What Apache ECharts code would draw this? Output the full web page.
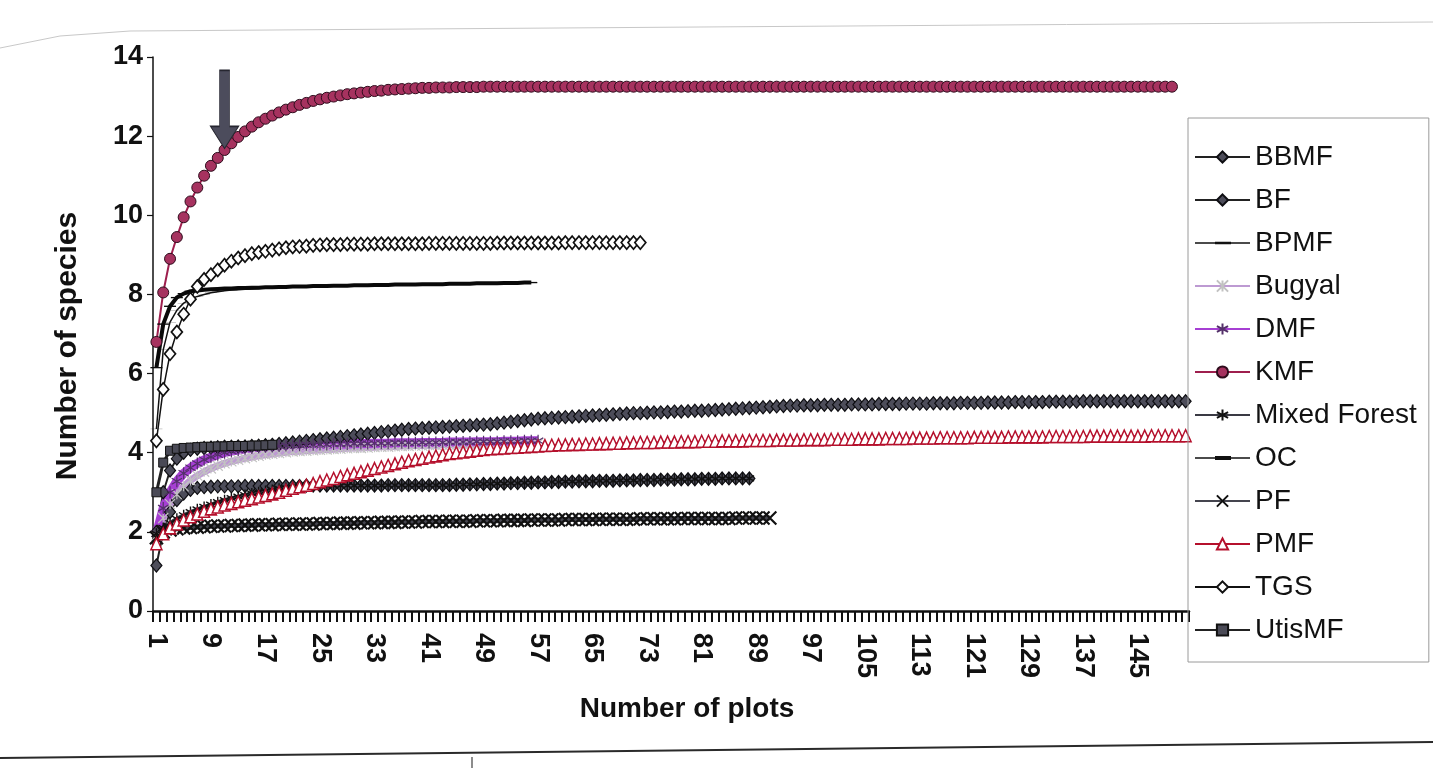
<!DOCTYPE html>
<html>
<head>
<meta charset="utf-8">
<script src="https://cdn.jsdelivr.net/npm/echarts@6/dist/echarts.min.js"></script>
<style>
  html, body { margin: 0; padding: 0; background: #fff; }
  #chart { width: 1433px; height: 768px; }
</style>
</head>
<body>
<div id="chart"></div>
<script>
// Species accumulation: number of species against number of plots, by forest type
const plotCount = 152;
const plots = Array.from({ length: plotCount }, (_, i) => String(i + 1));
const yTicks = [0, 2, 4, 6, 8, 10, 12, 14];

const BBMF = [
  2.0, 3.0, 3.55, 3.85, 4.0, 4.07, 4.1, 4.12, 4.13, 4.14,
  4.15, 4.15, 4.16, 4.16, 4.17, 4.18, 4.19, 4.2, 4.22, 4.24,
  4.26, 4.28, 4.3, 4.32, 4.34, 4.36, 4.38, 4.4, 4.42, 4.44,
  4.46, 4.48, 4.5, 4.52, 4.54, 4.56, 4.58, 4.6, 4.61, 4.62,
  4.63, 4.64, 4.65, 4.66, 4.67, 4.68, 4.69, 4.7, 4.71, 4.72,
  4.74, 4.76, 4.78, 4.8, 4.82, 4.84, 4.86, 4.87, 4.88, 4.89,
  4.9, 4.91, 4.92, 4.93, 4.94, 4.95, 4.96, 4.97, 4.98, 4.99,
  5.0, 5.0, 5.01, 5.02, 5.02, 5.03, 5.04, 5.04, 5.05, 5.06,
  5.06, 5.07, 5.08, 5.09, 5.1, 5.11, 5.12, 5.13, 5.14, 5.15,
  5.16, 5.17, 5.18, 5.19, 5.19, 5.2, 5.2, 5.2, 5.21, 5.21,
  5.21, 5.21, 5.22, 5.22, 5.22, 5.22, 5.23, 5.23, 5.23, 5.23,
  5.24, 5.24, 5.24, 5.24, 5.25, 5.25, 5.25, 5.25, 5.26, 5.26,
  5.26, 5.26, 5.27, 5.27, 5.27, 5.27, 5.28, 5.28, 5.28, 5.28,
  5.28, 5.29, 5.29, 5.29, 5.29, 5.29, 5.3, 5.3, 5.3, 5.3,
  5.3, 5.3, 5.3, 5.3, 5.3, 5.3, 5.3, 5.3, 5.3, 5.3,
  5.3, 5.3
];

const BF = [
  1.15, 2.0, 2.5, 2.8, 2.97, 3.06, 3.11, 3.13, 3.14, 3.15,
  3.15, 3.15, 3.15, 3.16, 3.16, 3.16, 3.16, 3.16, 3.16, 3.16,
  3.16, 3.16, 3.17, 3.17, 3.17, 3.17, 3.17, 3.17, 3.17, 3.17,
  3.17, 3.17, 3.17, 3.17, 3.18, 3.18, 3.18, 3.18, 3.18, 3.18,
  3.18, 3.18, 3.18, 3.18, 3.19, 3.19, 3.2, 3.2, 3.21, 3.21,
  3.22, 3.22, 3.23, 3.23, 3.24, 3.24, 3.25, 3.25, 3.26, 3.26,
  3.27, 3.27, 3.28, 3.28, 3.28, 3.29, 3.29, 3.29, 3.3, 3.3,
  3.3, 3.31, 3.31, 3.31, 3.32, 3.32, 3.32, 3.33, 3.33, 3.33,
  3.34, 3.34, 3.34, 3.35, 3.35, 3.35, 3.35, 3.35
];

const BPMF = [
  4.6, 6.6, 7.3, 7.6, 7.78, 7.88, 7.95, 8.0, 8.04, 8.07,
  8.09, 8.11, 8.12, 8.13, 8.14, 8.15, 8.16, 8.17, 8.18, 8.19,
  8.2, 8.2, 8.2, 8.21, 8.21, 8.21, 8.22, 8.22, 8.22, 8.23,
  8.23, 8.23, 8.24, 8.24, 8.24, 8.25, 8.25, 8.25, 8.25, 8.26,
  8.26, 8.26, 8.26, 8.27, 8.27, 8.27, 8.27, 8.28, 8.28, 8.28,
  8.28, 8.29, 8.29, 8.29, 8.3, 8.3
];

const Bugyal = [
  1.9, 2.35, 2.7, 2.95, 3.15, 3.3, 3.42, 3.52, 3.6, 3.67,
  3.73, 3.78, 3.82, 3.86, 3.89, 3.92, 3.95, 3.97, 3.99, 4.01,
  4.03, 4.04, 4.05, 4.06, 4.07, 4.08, 4.09, 4.1, 4.11, 4.12,
  4.12, 4.13, 4.14, 4.15, 4.15, 4.16, 4.17, 4.17, 4.18, 4.18,
  4.19, 4.19, 4.2, 4.2, 4.2, 4.21, 4.21, 4.21, 4.22, 4.22,
  4.22, 4.22, 4.23, 4.23, 4.23, 4.23, 4.24
];

const DMF = [
  1.95, 2.6, 3.0, 3.28, 3.48, 3.62, 3.73, 3.82, 3.89, 3.95,
  4.0, 4.04, 4.07, 4.1, 4.12, 4.14, 4.15, 4.16, 4.17, 4.18,
  4.19, 4.19, 4.2, 4.2, 4.21, 4.21, 4.22, 4.22, 4.22, 4.23,
  4.23, 4.23, 4.24, 4.24, 4.24, 4.25, 4.25, 4.25, 4.25, 4.26,
  4.26, 4.26, 4.26, 4.27, 4.27, 4.27, 4.27, 4.28, 4.28, 4.28,
  4.28, 4.29, 4.29, 4.29, 4.3, 4.3, 4.3
];

const KMF = [
  6.8, 8.05, 8.9, 9.45, 9.95, 10.35, 10.7, 11.0, 11.25, 11.45,
  11.65, 11.82, 11.98, 12.12, 12.24, 12.35, 12.44, 12.52, 12.6, 12.67,
  12.73, 12.79, 12.84, 12.89, 12.93, 12.97, 13.0, 13.03, 13.06, 13.08,
  13.1, 13.12, 13.14, 13.15, 13.17, 13.18, 13.19, 13.2, 13.21, 13.22,
  13.22, 13.23, 13.23, 13.23, 13.24, 13.24, 13.24, 13.24, 13.25, 13.25,
  13.25, 13.25, 13.25, 13.25, 13.25, 13.25, 13.25, 13.25, 13.25, 13.25,
  13.25, 13.25, 13.25, 13.25, 13.25, 13.25, 13.25, 13.25, 13.25, 13.25,
  13.25, 13.25, 13.25, 13.25, 13.25, 13.25, 13.25, 13.25, 13.25, 13.25,
  13.25, 13.25, 13.25, 13.25, 13.25, 13.25, 13.25, 13.25, 13.25, 13.25,
  13.25, 13.25, 13.25, 13.25, 13.25, 13.25, 13.25, 13.25, 13.25, 13.25,
  13.25, 13.25, 13.25, 13.25, 13.25, 13.25, 13.25, 13.25, 13.25, 13.25,
  13.25, 13.25, 13.25, 13.25, 13.25, 13.25, 13.25, 13.25, 13.25, 13.25,
  13.25, 13.25, 13.25, 13.25, 13.25, 13.25, 13.25, 13.25, 13.25, 13.25,
  13.25, 13.25, 13.25, 13.25, 13.25, 13.25, 13.25, 13.25, 13.25, 13.25,
  13.25, 13.25, 13.25, 13.25, 13.25, 13.25, 13.25, 13.25, 13.25, 13.25
];

const MixedForest = [
  1.95, 2.1, 2.22, 2.33, 2.42, 2.5, 2.57, 2.63, 2.69, 2.75,
  2.8, 2.85, 2.89, 2.93, 2.97, 3.0, 3.03, 3.06, 3.09, 3.11,
  3.13, 3.14, 3.15, 3.16, 3.16, 3.17, 3.17, 3.17, 3.17, 3.17,
  3.17, 3.17, 3.17, 3.17, 3.18, 3.18, 3.18, 3.18, 3.18, 3.18,
  3.18, 3.18, 3.18, 3.18, 3.19, 3.19, 3.2, 3.2, 3.21, 3.21,
  3.22, 3.22, 3.23, 3.23, 3.24, 3.24, 3.25, 3.25, 3.26, 3.26,
  3.27, 3.27, 3.28, 3.28, 3.28, 3.29, 3.29, 3.29, 3.3, 3.3,
  3.3, 3.31, 3.31, 3.31, 3.32, 3.32, 3.32, 3.33, 3.33, 3.33,
  3.34, 3.34, 3.34, 3.35, 3.35, 3.35, 3.35, 3.35
];

const OC = [
  6.15, 7.25, 7.7, 7.92, 8.02, 8.08, 8.1, 8.12, 8.13, 8.14,
  8.15, 8.15, 8.16, 8.16, 8.17, 8.17, 8.18, 8.18, 8.19, 8.19,
  8.2, 8.2, 8.2, 8.21, 8.21, 8.21, 8.22, 8.22, 8.22, 8.23,
  8.23, 8.23, 8.24, 8.24, 8.24, 8.25, 8.25, 8.25, 8.25, 8.26,
  8.26, 8.26, 8.26, 8.27, 8.27, 8.27, 8.27, 8.28, 8.28, 8.28,
  8.28, 8.29, 8.29, 8.29, 8.3, 8.3
];

const PF = [
  1.85, 2.0, 2.05, 2.08, 2.1, 2.11, 2.12, 2.13, 2.14, 2.15,
  2.15, 2.16, 2.16, 2.17, 2.17, 2.18, 2.18, 2.18, 2.19, 2.19,
  2.19, 2.2, 2.2, 2.2, 2.21, 2.21, 2.21, 2.22, 2.22, 2.22,
  2.23, 2.23, 2.23, 2.24, 2.24, 2.24, 2.25, 2.25, 2.25, 2.26,
  2.26, 2.26, 2.26, 2.27, 2.27, 2.27, 2.27, 2.28, 2.28, 2.28,
  2.28, 2.29, 2.29, 2.29, 2.29, 2.3, 2.3, 2.3, 2.3, 2.3,
  2.31, 2.31, 2.31, 2.31, 2.31, 2.32, 2.32, 2.32, 2.32, 2.32,
  2.32, 2.33, 2.33, 2.33, 2.33, 2.33, 2.33, 2.34, 2.34, 2.34,
  2.34, 2.34, 2.34, 2.34, 2.34, 2.35, 2.35, 2.35, 2.35, 2.35,
  2.35
];

const PMF = [
  1.7, 1.95, 2.1, 2.2, 2.3, 2.38, 2.45, 2.52, 2.58, 2.63,
  2.68, 2.72, 2.76, 2.8, 2.84, 2.88, 2.92, 2.96, 3.0, 3.05,
  3.1, 3.14, 3.18, 3.22, 3.27, 3.31, 3.35, 3.4, 3.44, 3.48,
  3.52, 3.56, 3.6, 3.64, 3.68, 3.72, 3.76, 3.8, 3.83, 3.86,
  3.89, 3.92, 3.95, 3.98, 4.0, 4.02, 4.04, 4.06, 4.08, 4.1,
  4.11, 4.12, 4.13, 4.14, 4.15, 4.16, 4.17, 4.18, 4.19, 4.2,
  4.2, 4.21, 4.21, 4.22, 4.22, 4.23, 4.23, 4.24, 4.24, 4.25,
  4.25, 4.26, 4.26, 4.26, 4.27, 4.27, 4.27, 4.28, 4.28, 4.28,
  4.29, 4.29, 4.29, 4.3, 4.3, 4.3, 4.3, 4.31, 4.31, 4.31,
  4.31, 4.32, 4.32, 4.32, 4.32, 4.33, 4.33, 4.33, 4.33, 4.34,
  4.34, 4.34, 4.34, 4.35, 4.35, 4.35, 4.35, 4.36, 4.36, 4.36,
  4.36, 4.37, 4.37, 4.37, 4.37, 4.38, 4.38, 4.38, 4.38, 4.38,
  4.39, 4.39, 4.39, 4.39, 4.39, 4.4, 4.4, 4.4, 4.4, 4.4,
  4.4, 4.41, 4.41, 4.41, 4.41, 4.41, 4.41, 4.42, 4.42, 4.42,
  4.42, 4.42, 4.42, 4.42, 4.42, 4.42, 4.43, 4.43, 4.43, 4.43,
  4.43, 4.43
];

const TGS = [
  4.3, 5.6, 6.5, 7.05, 7.5, 7.88, 8.2, 8.38, 8.5, 8.62,
  8.74, 8.84, 8.92, 8.98, 9.03, 9.06, 9.09, 9.12, 9.15, 9.18,
  9.2, 9.21, 9.22, 9.24, 9.25, 9.26, 9.26, 9.26, 9.27, 9.27,
  9.27, 9.27, 9.28, 9.28, 9.28, 9.28, 9.28, 9.28, 9.28, 9.28,
  9.29, 9.29, 9.29, 9.29, 9.29, 9.29, 9.29, 9.29, 9.29, 9.29,
  9.3, 9.3, 9.3, 9.3, 9.3, 9.3, 9.3, 9.3, 9.3, 9.3,
  9.31, 9.31, 9.31, 9.31, 9.31, 9.31, 9.31, 9.31, 9.31, 9.31,
  9.31, 9.31
];

const UtisMF = [
  3.0, 3.75, 4.05, 4.1, 4.12, 4.13, 4.14, 4.15, 4.15, 4.16,
  4.16, 4.17, 4.17, 4.17, 4.18, 4.18, 4.19, 4.2
];

// Marker outlines
const ASTERISK = 'path://M5,0 L5,10 M0.7,2.5 L9.3,7.5 M0.7,7.5 L9.3,2.5';
const STAR_X = 'path://M0,0 L10,10 M0,10 L10,0 M5,0 L5,10';
const CROSS = 'path://M0,0 L10,10 M0,10 L10,0';
const THIN_DASH = 'path://M0,0 L12,0 L12,1.6 L0,1.6 Z';
const THICK_DASH = 'path://M0,0 L12,0 L12,4 L0,4 Z';
const ARROW = 'path://M9,0 L19,0 L19,56 L28,56 L14,78 L0,56 L9,56 Z';
// Legend swatches for the two dash-marked lines (line plus centred dash)
const BPMF_ICON = 'path://M0,6.3 L55,6.3 L55,7.7 L0,7.7 Z M20,5.8 L36,5.8 L36,8.2 L20,8.2 Z';
const OC_ICON = 'path://M0,6.3 L55,6.3 L55,7.7 L0,7.7 Z M20,5 L36,5 L36,9 L20,9 Z';

const FONT = '"Liberation Sans", Arial, sans-serif';

function line(name, data, opt) {
  return Object.assign({
    name: name,
    type: 'line',
    data: data,
    showAllSymbol: true,
    animation: false,
    smooth: false,
    symbolKeepAspect: true,
    lineStyle: { color: '#111', width: 1.5 },
    emphasis: { disabled: true }
  }, opt);
}

const series = [
  line('BBMF', BBMF, {
    symbol: 'diamond', symbolSize: [11, 13], symbolKeepAspect: false,
    itemStyle: { color: '#4d4d5a', borderColor: '#0e0e12', borderWidth: 1.2 },
    lineStyle: { color: '#222', width: 2 }
  }),
  line('BF', BF, {
    symbol: 'diamond', symbolSize: [11, 13], symbolKeepAspect: false,
    itemStyle: { color: '#4d4d5a', borderColor: '#0e0e12', borderWidth: 1.2 },
    lineStyle: { color: '#222', width: 2 }
  }),
  line('BPMF', BPMF, {
    symbol: THIN_DASH, symbolSize: [12, 1.6],
    itemStyle: { color: '#111' },
    lineStyle: { color: '#111', width: 1.5 }
  }),
  line('Bugyal', Bugyal, {
    symbol: STAR_X, symbolSize: 10,
    itemStyle: { color: '#c8c8c8', borderColor: '#c2c2c2', borderWidth: 1.2 },
    lineStyle: { color: '#bd9ad2', width: 7 }
  }),
  line('DMF', DMF, {
    z: 3,
    symbol: ASTERISK, symbolSize: 12,
    itemStyle: { color: '#a14dc2', borderColor: '#54306a', borderWidth: 1.2 },
    lineStyle: { color: '#a63fd3', width: 9 }
  }),
  line('KMF', KMF, {
    symbol: 'circle', symbolSize: 11,
    itemStyle: { color: '#a6325f', borderColor: '#2e0c1c', borderWidth: 1 },
    lineStyle: { color: '#9e1f4e', width: 2 },
    markPoint: {
      silent: true,
      symbol: ARROW,
      symbolSize: [28, 78],
      symbolKeepAspect: false,
      symbolOffset: [0, '-52%'],
      itemStyle: { color: '#4c4c5c', borderColor: '#262630', borderWidth: 1 },
      label: { show: false },
      data: [{ coord: [plots[10], KMF[10]] }]
    }
  }),
  line('Mixed Forest', MixedForest, {
    symbol: ASTERISK, symbolSize: 11,
    itemStyle: { color: '#111', borderColor: '#111', borderWidth: 1.4 },
    lineStyle: { color: '#3a3a44', width: 4 }
  }),
  line('OC', OC, {
    symbol: THICK_DASH, symbolSize: [12, 4],
    itemStyle: { color: '#0a0a0a' },
    lineStyle: { color: '#0a0a0a', width: 4 }
  }),
  line('PF', PF, {
    symbol: CROSS, symbolSize: 13,
    itemStyle: { color: '#111', borderColor: '#111', borderWidth: 2.2 },
    lineStyle: { color: '#45454f', width: 5 }
  }),
  line('PMF', PMF, {
    symbol: 'triangle', symbolSize: [11, 12], symbolKeepAspect: false,
    itemStyle: { color: '#ffffff', borderColor: '#b5102c', borderWidth: 1.5 },
    lineStyle: { color: '#b5102c', width: 1.5 }
  }),
  line('TGS', TGS, {
    symbol: 'diamond', symbolSize: [11, 13], symbolKeepAspect: false,
    itemStyle: { color: '#ffffff', borderColor: '#111', borderWidth: 1.7 },
    lineStyle: { color: '#111', width: 1.5 }
  }),
  line('UtisMF', UtisMF, {
    symbol: 'rect', symbolSize: 9,
    itemStyle: { color: '#4a4a56', borderColor: '#111', borderWidth: 1 },
    lineStyle: { color: '#222', width: 3 }
  })
];

const legendIcons = { BPMF: BPMF_ICON, OC: OC_ICON };

const chart = echarts.init(document.getElementById('chart'), null, { renderer: 'canvas' });

chart.setOption({
  backgroundColor: '#ffffff',
  animation: false,
  textStyle: { fontFamily: FONT },
  grid: { left: 153, right: 244, top: 57, bottom: 157, containLabel: false },
  legend: {
    orient: 'vertical',
    left: 1188,
    top: 118,
    padding: [25, 12, 18, 6],
    itemWidth: 55,
    itemHeight: 14,
    itemGap: 15,
    borderColor: '#9a9a9a',
    borderWidth: 1,
    selectedMode: false,
    textStyle: { fontFamily: FONT, fontSize: 28, color: '#111' },
    data: series.map(s => legendIcons[s.name]
      ? { name: s.name, icon: legendIcons[s.name], itemStyle: { color: '#111' } }
      : s.name)
  },
  xAxis: {
    type: 'category',
    data: plots,
    boundaryGap: true,
    name: 'Number of plots',
    nameLocation: 'middle',
    nameGap: 84,
    nameTextStyle: {
      fontFamily: FONT, fontSize: 28, fontWeight: 'bold', color: '#111',
      padding: [0, 0, 0, 32]
    },
    axisLine: { lineStyle: { color: '#111', width: 2.5 } },
    axisTick: { show: true, interval: 0, length: 11, lineStyle: { color: '#111', width: 2 } },
    axisLabel: {
      interval: 7,
      rotate: -90,
      margin: 22,
      fontFamily: FONT,
      fontSize: 27,
      fontWeight: 'bold',
      color: '#111'
    },
    splitLine: { show: false }
  },
  yAxis: {
    type: 'value',
    min: yTicks[0],
    max: yTicks[yTicks.length - 1],
    interval: 2,
    name: 'Number of species',
    nameLocation: 'middle',
    nameGap: 70,
    nameTextStyle: {
      fontFamily: FONT, fontSize: 30, fontWeight: 'bold', color: '#111',
      padding: [0, 24, 0, 0]
    },
    axisLine: { show: true, lineStyle: { color: '#111', width: 1.5 } },
    axisTick: { show: true, length: 6, lineStyle: { color: '#111', width: 1.2 } },
    axisLabel: { margin: 10, fontFamily: FONT, fontSize: 27, fontWeight: 'bold', color: '#111' },
    splitLine: { show: false }
  },
  graphic: [
    {
      type: 'polyline', silent: true,
      shape: { points: [[0, 48], [60, 36], [130, 31], [700, 27], [1433, 22]] },
      style: { stroke: '#c8c8c8', lineWidth: 1, fill: null }
    },
    {
      type: 'line', silent: true,
      shape: { x1: 0, y1: 758, x2: 1433, y2: 742 },
      style: { stroke: '#2a2a2a', lineWidth: 2 }
    },
    {
      type: 'line', silent: true,
      shape: { x1: 472, y1: 757, x2: 472, y2: 768 },
      style: { stroke: '#666', lineWidth: 1.5 }
    }
  ],
  series: series
});
</script>
</body>
</html>
